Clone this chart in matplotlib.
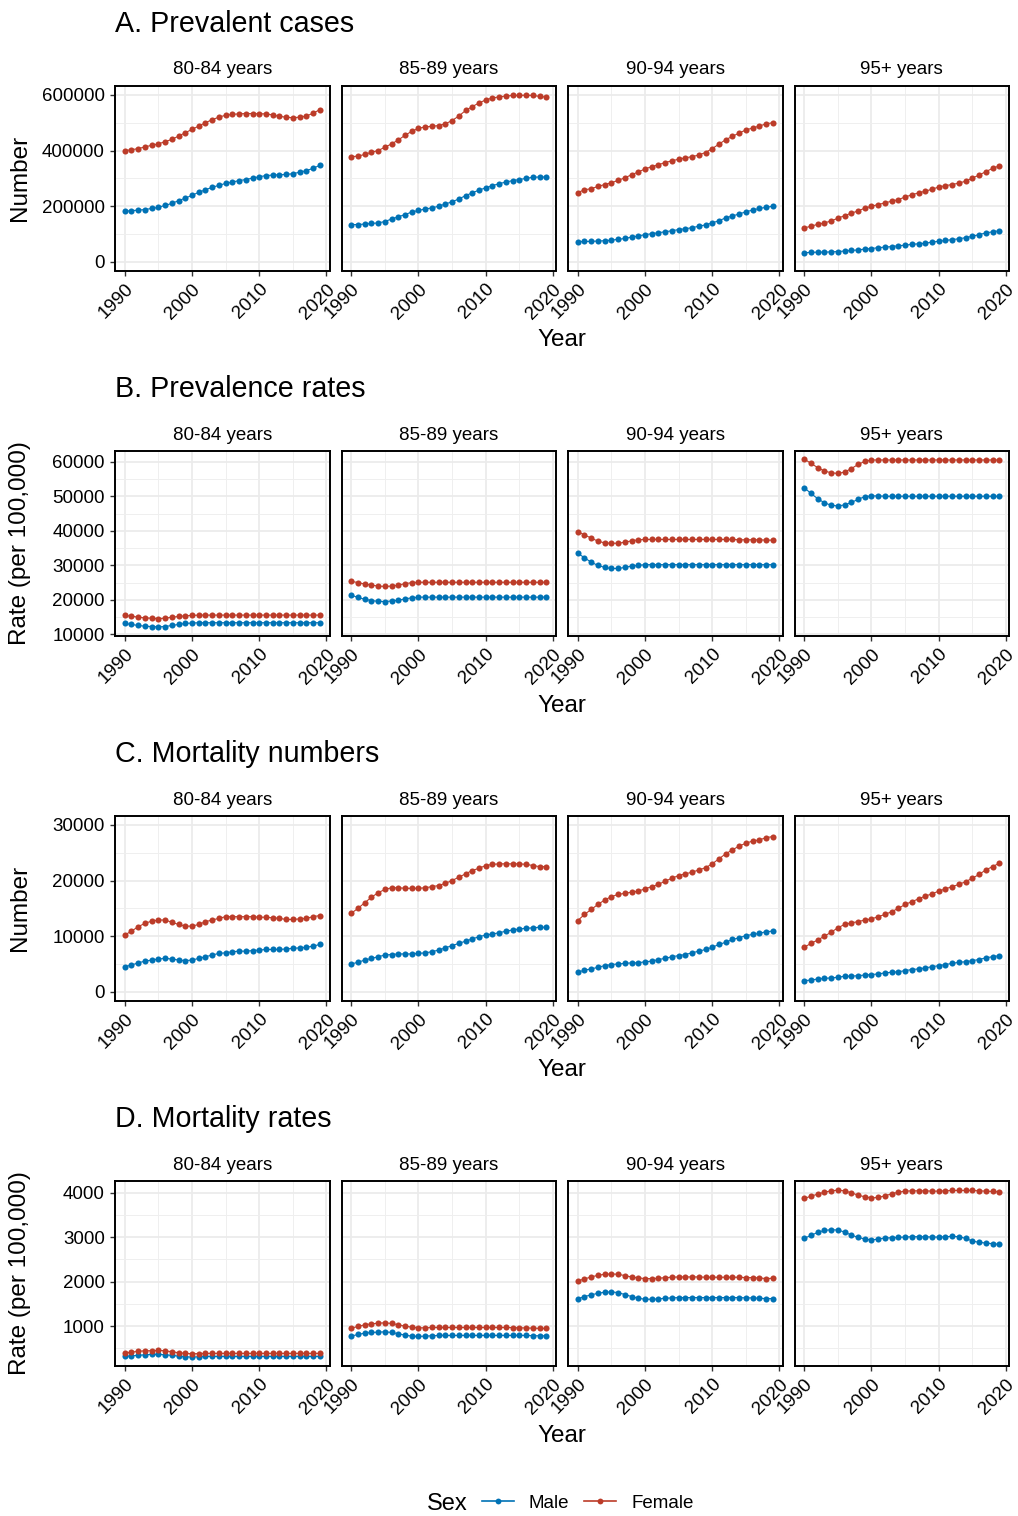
import matplotlib
matplotlib.use("Agg")
import matplotlib.pyplot as plt
from matplotlib.lines import Line2D
from matplotlib.ticker import FixedLocator
import numpy as np

plt.rcParams['font.family'] = ['Liberation Sans', 'DejaVu Sans']

# ==========================================
# Data
# ==========================================
years = list(range(1990, 2020))
age_groups = ['80-84 years', '85-89 years', '90-94 years', '95+ years']

# A. Prevalent cases
prev_n_80_m = [182000, 184000, 186000, 188000, 192000, 196000, 203000, 210000, 220000, 229000,
               239000, 250000, 259000, 268000, 275000, 282000, 287000, 292000, 296000, 301000,
               306000, 310000, 312000, 313000, 314000, 317000, 322000, 328000, 336000, 347000]
prev_n_80_f = [399600, 403000, 407000, 413000, 419000, 424000, 432000, 440000, 452000, 464000,
               476000, 488000, 500000, 511000, 520000, 527000, 530000, 532000, 533000, 533000,
               532000, 532000, 528000, 523000, 520000, 518000, 520000, 524000, 534000, 547000]
prev_n_85_m = [134000, 134000, 136000, 138000, 140000, 145000, 154000, 162000, 170000, 179000,
               185000, 190000, 194000, 200000, 208000, 216000, 226000, 238000, 248000, 258000,
               266000, 274000, 281000, 287000, 292000, 296000, 300000, 304000, 305000, 305000]
prev_n_85_f = [378000, 380000, 386000, 394000, 400000, 412000, 424000, 438000, 455000, 469000,
               480000, 485000, 487000, 490000, 496000, 508000, 524000, 544000, 558000, 571000,
               582000, 589000, 593000, 596000, 598000, 598000, 599000, 598000, 595000, 592000]
prev_n_90_m = [72000, 73500, 73500, 75000, 76000, 78000, 81000, 84000, 89000, 93000,
               98000, 101000, 105000, 108000, 112000, 116000, 119000, 123000, 128000, 133000,
               140000, 148000, 158000, 165000, 172000, 180000, 186000, 192000, 196000, 200000]
prev_n_90_f = [249000, 259000, 263000, 271000, 278000, 284000, 293000, 302000, 313000, 323000,
               334000, 342000, 349000, 357000, 363000, 369000, 374000, 378000, 384000, 393000,
               407000, 423000, 439000, 451000, 463000, 474000, 481000, 488000, 496000, 500000]
prev_n_95_m = [33000, 34000, 35000, 35000, 36000, 37000, 39000, 41000, 43000, 46000,
               48000, 51000, 53000, 55000, 58000, 60000, 63000, 65000, 67000, 71000,
               74000, 77000, 80000, 83000, 87000, 92000, 98000, 104000, 108000, 112000]
prev_n_95_f = [122000, 128000, 135000, 140000, 147000, 157000, 166000, 175000, 183000, 193000,
               200000, 206000, 212000, 218000, 224000, 233000, 241000, 248000, 254000, 261000,
               269000, 274000, 278000, 283000, 290000, 301000, 312000, 324000, 336000, 345000]

# B. Prevalence rates
prev_r_80_m = [13200, 12900, 12600, 12400, 12300, 12200, 12300, 12600, 12900, 13200,
               13300, 13400, 13400, 13400, 13400, 13400, 13400, 13400, 13400, 13400,
               13400, 13400, 13400, 13400, 13400, 13400, 13400, 13400, 13400, 13400]
prev_r_80_f = [15500, 15300, 15000, 14800, 14700, 14600, 14700, 15000, 15200, 15400,
               15500, 15600, 15600, 15600, 15600, 15600, 15600, 15600, 15600, 15600,
               15600, 15600, 15600, 15600, 15600, 15600, 15600, 15600, 15600, 15600]
prev_r_85_m = [21400, 20700, 20200, 19800, 19600, 19500, 19700, 19900, 20300, 20600,
               20800, 20800, 20800, 20800, 20800, 20800, 20800, 20800, 20800, 20800,
               20800, 20800, 20800, 20800, 20800, 20800, 20800, 20800, 20800, 20800]
prev_r_85_f = [25400, 25000, 24600, 24300, 24000, 23900, 24000, 24300, 24700, 25000,
               25100, 25100, 25100, 25100, 25100, 25100, 25100, 25100, 25100, 25100,
               25100, 25100, 25100, 25100, 25100, 25100, 25100, 25100, 25100, 25100]
prev_r_90_m = [33500, 32200, 30900, 30000, 29400, 29100, 29100, 29400, 29800, 30000,
               30200, 30200, 30200, 30200, 30200, 30200, 30200, 30200, 30200, 30200,
               30200, 30200, 30200, 30200, 30200, 30200, 30200, 30200, 30200, 30200]
prev_r_90_f = [39800, 38800, 37900, 37000, 36500, 36400, 36400, 36700, 37100, 37400,
               37500, 37500, 37500, 37500, 37500, 37500, 37500, 37500, 37500, 37500,
               37500, 37500, 37500, 37500, 37400, 37400, 37400, 37400, 37300, 37300]
prev_r_95_m = [52500, 50800, 49300, 48100, 47400, 47200, 47500, 48200, 49100, 49900,
               50100, 50100, 50000, 50000, 50000, 50000, 50000, 50000, 50000, 50000,
               50000, 50000, 50000, 50000, 50000, 50000, 50000, 50000, 50000, 50000]
prev_r_95_f = [60800, 59500, 58300, 57300, 56800, 56600, 57000, 58000, 59200, 60100,
               60500, 60500, 60500, 60500, 60500, 60500, 60500, 60500, 60500, 60500,
               60500, 60500, 60500, 60500, 60500, 60500, 60500, 60500, 60500, 60500]

# C. Mortality numbers
mort_n_80_m = [4500, 4800, 5200, 5500, 5700, 5900, 6000, 5900, 5700, 5600,
               5700, 6000, 6300, 6600, 6900, 7000, 7200, 7300, 7300, 7400,
               7500, 7600, 7600, 7600, 7700, 7800, 7900, 8000, 8200, 8500]
mort_n_80_f = [10200, 10900, 11700, 12300, 12700, 12900, 12900, 12500, 12100, 11800,
               11800, 12100, 12600, 12900, 13200, 13500, 13500, 13500, 13500, 13500,
               13400, 13400, 13300, 13200, 13000, 13000, 13100, 13200, 13500, 13700]
mort_n_85_m = [5000, 5300, 5700, 6000, 6300, 6600, 6700, 6800, 6800, 6800,
               6900, 7000, 7200, 7500, 7900, 8300, 8700, 9100, 9500, 9900,
               10200, 10400, 10600, 10900, 11100, 11300, 11400, 11500, 11600, 11600]
mort_n_85_f = [14100, 15000, 16000, 17000, 17800, 18400, 18700, 18700, 18600, 18600,
               18600, 18700, 18900, 19100, 19500, 20000, 20600, 21200, 21800, 22200,
               22700, 22900, 23000, 23000, 23000, 23000, 22900, 22700, 22500, 22500]
mort_n_90_m = [3500, 3900, 4100, 4400, 4700, 4900, 5000, 5100, 5200, 5200,
               5400, 5500, 5800, 6000, 6300, 6500, 6700, 7000, 7300, 7600,
               8000, 8500, 8900, 9400, 9700, 10100, 10300, 10500, 10800, 10900]
mort_n_90_f = [12800, 13900, 14800, 15700, 16500, 17100, 17500, 17700, 17900, 18100,
               18500, 18900, 19300, 19900, 20400, 20900, 21200, 21500, 21900, 22300,
               23000, 23900, 24800, 25500, 26200, 26700, 27100, 27300, 27700, 27900]
mort_n_95_m = [2000, 2100, 2300, 2400, 2500, 2600, 2800, 2800, 2900, 3000,
               3100, 3200, 3400, 3500, 3600, 3800, 4000, 4100, 4300, 4500,
               4700, 4900, 5100, 5300, 5400, 5600, 5800, 6100, 6300, 6500]
mort_n_95_f = [8000, 8700, 9300, 10000, 10700, 11500, 12100, 12400, 12600, 12900,
               13100, 13500, 13900, 14400, 15000, 15700, 16200, 16700, 17200, 17600,
               18100, 18500, 18900, 19300, 19800, 20400, 21100, 21900, 22500, 23100]

# D. Mortality rates
mort_r_80_m = [319, 334, 342, 357, 364, 364, 357, 342, 327, 312,
               304, 312, 319, 319, 319, 319, 319, 319, 319, 319,
               319, 319, 319, 319, 319, 319, 319, 319, 319, 319]
mort_r_80_f = [394, 417, 432, 447, 447, 454, 447, 424, 402, 387,
               379, 383, 387, 387, 387, 387, 387, 387, 387, 387,
               387, 387, 387, 387, 387, 387, 387, 387, 387, 387]
mort_r_85_m = [776, 813, 843, 858, 865, 873, 858, 828, 798, 776,
               768, 776, 783, 791, 791, 791, 791, 791, 791, 791,
               791, 791, 791, 791, 791, 791, 791, 786, 783, 783]
mort_r_85_f = [955, 993, 1030, 1052, 1067, 1075, 1060, 1030, 1000, 978,
               963, 963, 970, 970, 970, 970, 970, 970, 970, 970,
               970, 970, 970, 970, 968, 963, 960, 955, 950, 948]
mort_r_90_m = [1613, 1666, 1703, 1740, 1763, 1770, 1755, 1711, 1666, 1628,
               1606, 1606, 1613, 1628, 1636, 1643, 1643, 1643, 1643, 1643,
               1643, 1643, 1643, 1643, 1643, 1636, 1636, 1628, 1620, 1620]
mort_r_90_f = [2017, 2062, 2107, 2144, 2167, 2174, 2167, 2137, 2107, 2085,
               2070, 2070, 2077, 2092, 2100, 2107, 2107, 2107, 2107, 2100,
               2100, 2100, 2100, 2100, 2100, 2092, 2092, 2085, 2070, 2077]
mort_r_95_m = [2975, 3042, 3109, 3154, 3169, 3162, 3117, 3049, 2997, 2960,
               2937, 2960, 2982, 2990, 2997, 3004, 3012, 3012, 3012, 3004,
               3004, 3012, 3019, 3012, 2975, 2915, 2885, 2870, 2855, 2840]
mort_r_95_f = [3872, 3924, 3969, 4014, 4044, 4059, 4044, 3999, 3947, 3909,
               3887, 3894, 3932, 3977, 4014, 4037, 4044, 4044, 4044, 4037,
               4037, 4044, 4052, 4052, 4052, 4052, 4044, 4037, 4029, 4022]

row_titles = ['A. Prevalent cases', 'B. Prevalence rates', 'C. Mortality numbers', 'D. Mortality rates']
row_ylabels = ['Number', 'Rate (per 100,000)', 'Number', 'Rate (per 100,000)']
x_ticks = [1990, 2000, 2010, 2020]

# ==========================================
# Style / layout
# ==========================================
male_color = '#0072B5'
female_color = '#BC3C29'
W, H = 1018, 1516
col_left = [115, 341.5, 568, 794.5]
panel_w = 214.5
row_top = [86, 451, 816, 1181]
panel_h = 184.5

row_specs = [
    # (data table, ylim, major ticks, minor ticks)
    ([(prev_n_80_m, prev_n_80_f), (prev_n_85_m, prev_n_85_f), (prev_n_90_m, prev_n_90_f), (prev_n_95_m, prev_n_95_f)],
     (-31000, 632000), [0, 200000, 400000, 600000], [100000, 300000, 500000]),
    ([(prev_r_80_m, prev_r_80_f), (prev_r_85_m, prev_r_85_f), (prev_r_90_m, prev_r_90_f), (prev_r_95_m, prev_r_95_f)],
     (9700, 63100), [10000, 20000, 30000, 40000, 50000, 60000], [15000, 25000, 35000, 45000, 55000]),
    ([(mort_n_80_m, mort_n_80_f), (mort_n_85_m, mort_n_85_f), (mort_n_90_m, mort_n_90_f), (mort_n_95_m, mort_n_95_f)],
     (-1570, 31600), [0, 10000, 20000, 30000], [5000, 15000, 25000]),
    ([(mort_r_80_m, mort_r_80_f), (mort_r_85_m, mort_r_85_f), (mort_r_90_m, mort_r_90_f), (mort_r_95_m, mort_r_95_f)],
     (115, 4265), [1000, 2000, 3000, 4000], [500, 1500, 2500, 3500]),
]

fig = plt.figure(figsize=(W / 100, H / 100), dpi=100)


def fx(px):
    return px / W


def fy(py):
    return 1 - py / H


for r, (table, ylim, yt, ymt) in enumerate(row_specs):
    top = row_top[r]
    fig.text(fx(115), fy(top - 62), row_titles[r], fontsize=20.6, ha='left', va='center')
    fig.text(fx(20), fy(top + panel_h / 2), row_ylabels[r], fontsize=17.5,
             rotation=90, ha='center', va='center')
    fig.text(fx(562), fy(top + panel_h + 70), 'Year', fontsize=17.5, ha='center', va='center')

    for c in range(4):
        ax = fig.add_axes([fx(col_left[c]), fy(top + panel_h), fx(panel_w), panel_h / H])
        male, female = table[c]
        ax.plot(years, male, color=male_color, lw=0.8, marker='o', ms=4.4, mew=0, zorder=3)
        ax.plot(years, female, color=female_color, lw=0.8, marker='o', ms=4.4, mew=0, zorder=3)

        ax.set_xlim(1988.55, 2020.45)
        ax.set_ylim(*ylim)
        ax.xaxis.set_major_locator(FixedLocator(x_ticks))
        ax.xaxis.set_minor_locator(FixedLocator([1995, 2005, 2015]))
        ax.yaxis.set_major_locator(FixedLocator(yt))
        ax.yaxis.set_minor_locator(FixedLocator(ymt))
        ax.grid(which='major', color='#EBEBEB', lw=1.25, zorder=0)
        ax.grid(which='minor', color='#EFEFEF', lw=0.7, zorder=0)
        ax.set_axisbelow(True)
        for s in ax.spines.values():
            s.set_linewidth(1.4)
            s.set_color('black')

        ax.tick_params(which='major', length=3.8, width=1.0, color='#333333',
                       labelsize=13.5, labelcolor='black', pad=3.5)
        ax.tick_params(which='minor', length=0)
        ax.set_xticks(x_ticks)
        ax.set_xticklabels([str(t) for t in x_ticks], rotation=45, ha='right',
                           va='top', rotation_mode='anchor')
        if c == 0:
            ax.set_yticklabels([str(t) for t in yt])
        else:
            ax.tick_params(axis='y', which='both', left=False, labelleft=False)
        ax.text(0.5, 1 + 16 / panel_h, age_groups[c], transform=ax.transAxes,
                ha='center', va='center', fontsize=13.5)

# legend
fig.text(fx(447), fy(1504), 'Sex', fontsize=17, ha='center', va='center')
handles = [Line2D([], [], color=male_color, lw=1.2, marker='o', ms=4.2, mew=0),
           Line2D([], [], color=female_color, lw=1.2, marker='o', ms=4.2, mew=0)]
fig.legend(handles, ['Male', 'Female'], loc='center left', bbox_to_anchor=(fx(482), fy(1503)),
           ncol=2, frameon=False, fontsize=13.5, handlelength=1.7, handletextpad=0.8,
           columnspacing=0.8, borderpad=0, borderaxespad=0)

fig.savefig('out.png', dpi=100)
